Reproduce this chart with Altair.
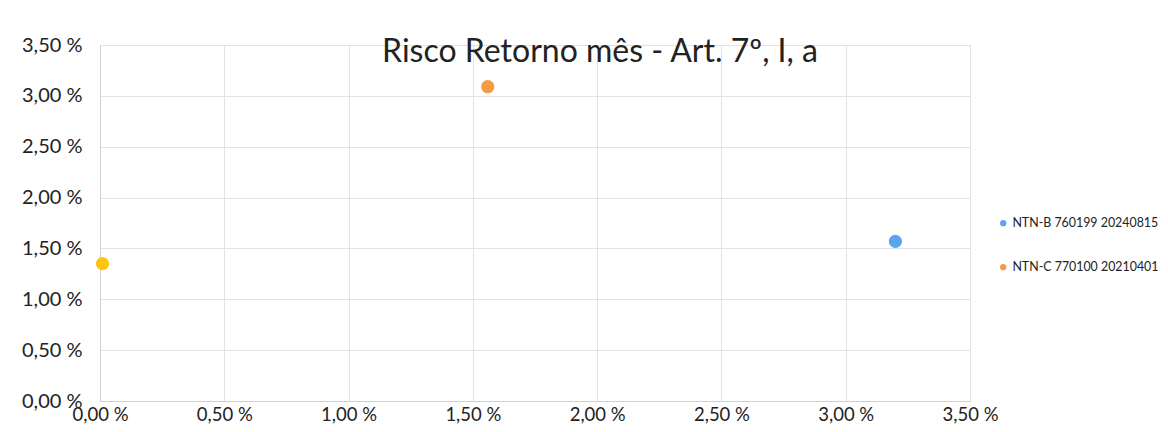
import altair as alt
import pandas as pd

series = ["NTN-B 760199 20240815", "NTN-C 770100 20210401", "Outro"]
risco = [3.20, 1.56, 0.01]
retorno = [1.57, 3.09, 1.35]
colors = ["#5AA5EE", "#F59A45", "#FFC414"]
ticks = [0, 0.5, 1.0, 1.5, 2.0, 2.5, 3.0, 3.5]

df = pd.DataFrame({"serie": series, "risco": risco, "retorno": retorno})

fmt = "replace(format(datum.value, '.2f'), '.', ',') + ' %'"
font = "Lato"

chart = alt.Chart(df).mark_circle(size=175, opacity=1).encode(
    x=alt.X("risco:Q", scale=alt.Scale(domain=[0, 3.5], nice=False),
            axis=alt.Axis(values=ticks, labelExpr=fmt, title=None, ticks=False,
                          labelPadding=4, labelFontSize=18.5, labelColor="#222",
                          labelFlush=False, labelOverlap=False,
                          gridColor="#E3E3E3", domainColor="#D0D0D0", labelFont=font)),
    y=alt.Y("retorno:Q", scale=alt.Scale(domain=[0, 3.5], nice=False),
            axis=alt.Axis(values=ticks, labelExpr=fmt, title=None, ticks=False,
                          labelPadding=18, labelFontSize=20, labelColor="#222",
                          labelFlush=False, labelOverlap=False,
                          gridColor="#E3E3E3", domainColor="#D0D0D0", labelFont=font)),
    color=alt.Color("serie:N",
                    scale=alt.Scale(domain=series, range=colors),
                    legend=alt.Legend(values=series[:2], title=None, orient="none",
                                      legendX=897, legendY=172, symbolSize=40,
                                      labelFontSize=12.4, labelFont=font, labelColor="#222",
                                      labelLimit=400,
                                      labelOffset=3, rowPadding=31, symbolType="circle")),
).properties(
    width=870, height=356,
    title=alt.TitleParams("Risco Retorno mês - Art. 7º, I, a", fontSize=32, font=font,
                          fontWeight="normal", color="#222", anchor="middle", dx=65,
                          offset=-66, baseline="bottom"),
    autosize=alt.AutoSizeParams(type="none"),
    padding={"left": 92, "top": 37, "right": 190, "bottom": 23},
).configure_view(stroke="#E3E3E3")

chart.save("out.html", embed_options={"renderer": "svg", "actions": False})
